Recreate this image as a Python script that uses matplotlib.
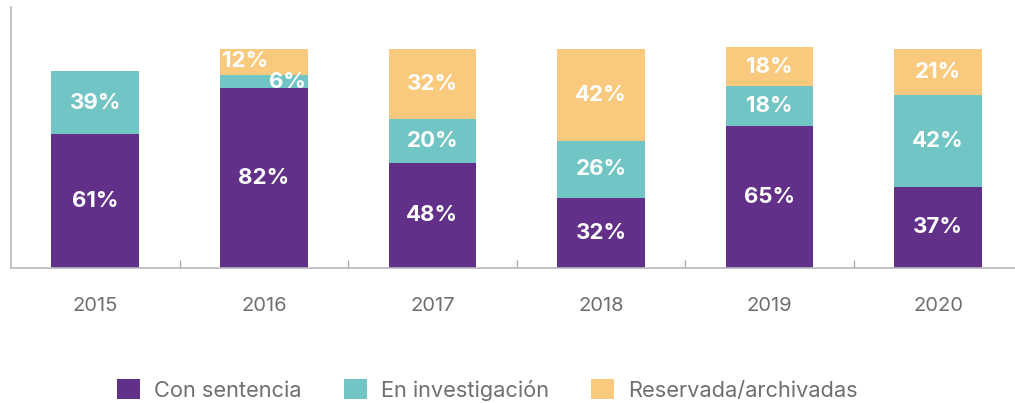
import matplotlib
matplotlib.use("Agg")
import matplotlib.pyplot as plt
from matplotlib.patches import Patch
import numpy as np

years = ["2015", "2016", "2017", "2018", "2019", "2020"]
con_sentencia = [61, 82, 48, 32, 65, 37]
en_investigacion = [29, 6, 20, 26, 18, 42]
reservada = [0, 12, 32, 42, 18, 21]
lbl_con = ["61%", "82%", "48%", "32%", "65%", "37%"]
lbl_inv = ["39%", "6%", "20%", "26%", "18%", "42%"]
lbl_res = ["", "12%", "32%", "42%", "18%", "21%"]
series_names = ["Con sentencia", "En investigación", "Reservada/archivadas"]

C_PUR = "#623088"
C_TEAL = "#71C5C4"
C_ORG = "#F9C97E"
colors = [C_PUR, C_TEAL, C_ORG]

plt.rcParams["font.family"] = ["Inter", "DejaVu Sans"]

fig = plt.figure(figsize=(10.15, 4.03), dpi=100)
ax = fig.add_axes([11/1015, 1-268/403, 1-11/1015, 261/403])

x = np.arange(len(years))
w = 0.52
b1 = np.array(con_sentencia, float)
b2 = b1 + np.array(en_investigacion, float)
ax.bar(x, con_sentencia, w, color=C_PUR, zorder=2)
ax.bar(x, en_investigacion, w, bottom=b1, color=C_TEAL, zorder=2)
ax.bar(x, reservada, w, bottom=b2, color=C_ORG, zorder=2)

tkw = dict(color="white", fontsize=16, fontweight="bold", ha="center", va="center", zorder=3)
for i in range(len(years)):
    ax.text(x[i], con_sentencia[i] / 2, lbl_con[i], **tkw)
    if i == 1:
        ax.text(x[i] + 0.14, b1[i] + 3.0, lbl_inv[i], **tkw)
        ax.text(x[i] - 0.11, b2[i] + reservada[i] / 2 + 0.3, lbl_res[i], **tkw)
        continue
    ax.text(x[i], b1[i] + en_investigacion[i] / 2, lbl_inv[i], **tkw)
    if reservada[i] > 0:
        ax.text(x[i], b2[i] + reservada[i] / 2, lbl_res[i], **tkw)

ax.set_xlim(-0.5, (1015 - 95) / 168.6)
ax.set_ylim(0, 261 / 2.19)
ax.set_xticks(x)
ax.set_xticklabels(years, fontsize=14.5, color="#6f6f6f")
ax.tick_params(axis="x", length=0, pad=21)
ax.set_xticks(x[:-1] + 0.5, minor=True)
ax.tick_params(axis="x", which="minor", direction="in", length=6, color="#aaaaaa", width=1)
ax.set_yticks([])
for s in ["top", "right"]:
    ax.spines[s].set_visible(False)
for s in ["left", "bottom"]:
    ax.spines[s].set_color("#b8b8bc")
    ax.spines[s].set_linewidth(1.2)

handles = [Patch(facecolor=c, edgecolor="none") for c in colors]
leg = fig.legend(handles, series_names, loc="center", bbox_to_anchor=(0.4803, 1 - 390/403),
                 ncol=3, frameon=False, fontsize=15.7, handlelength=1.05, handleheight=1.05,
                 handletextpad=0.64, columnspacing=1.95)
for t in leg.get_texts():
    t.set_color("#6f6f6f")

fig.savefig("out.png", dpi=100)
